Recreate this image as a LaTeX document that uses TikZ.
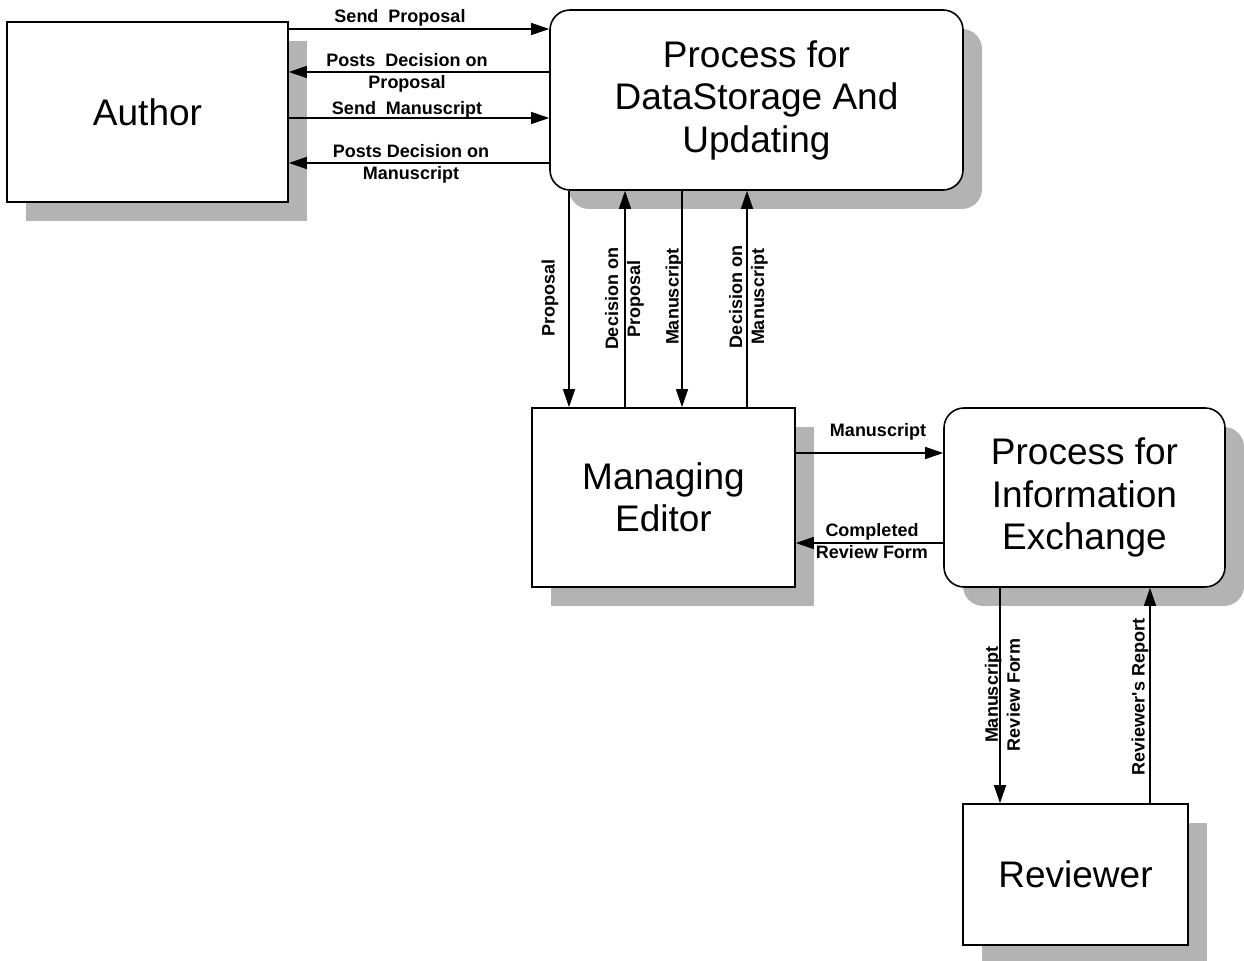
\documentclass[tikz,border=0pt]{standalone}
\usepackage{fontspec}
\setmainfont{Liberation Sans}
\usetikzlibrary{arrows.meta,shadows}
\definecolor{ink}{HTML}{000000}
\definecolor{shade}{HTML}{B3B3B3}

\begin{document}
\begin{tikzpicture}[
  x=0.5pt, y=-0.5pt,
  entity/.style  = {draw=ink, line width=0.8pt, fill=white, align=center,
                    font=\fontsize{18.5}{21.25}\selectfont,
                    drop shadow={shadow xshift=9.5pt, shadow yshift=-9.5pt,
                                 fill=shade, opacity=1}},
  process/.style = {entity, rounded corners=10pt},
  flow/.style    = {font=\fontsize{9}{11}\selectfont\bfseries, align=center,
                    inner sep=0pt, text=ink},
  arr/.style     = {-{Triangle[length=9pt,width=6pt]}, draw=ink, line width=0.6pt},
]
\useasboundingbox (0,0) rectangle (1244,961);

% entities and processes
\node[entity, minimum width=140.5pt, minimum height=90pt] (author) at (147.5,112) {Author};
\node[process, minimum width=206.5pt, minimum height=90pt] (store) at (756.5,100)
  {Process for\\DataStorage And\\Updating};
\node[entity, minimum width=131.5pt, minimum height=89.5pt] (editor) at (663.5,497.5)
  {Managing\\Editor};
\node[process, minimum width=140.5pt, minimum height=89.5pt] (exchange) at (1084.5,497.5)
  {Process for\\Information\\Exchange};
\node[entity, minimum width=112.5pt, minimum height=70.5pt] (reviewer) at (1075.5,874.5)
  {Reviewer};

% author <-> store
\draw[arr] (author.east |- 0,29) -- (store.west |- 0,29);
\draw[arr] (store.west |- 0,72) -- (author.east |- 0,72);
\draw[arr] (author.east |- 0,118) -- (store.west |- 0,118);
\draw[arr] (store.west |- 0,163) -- (author.east |- 0,163);

\node[flow] (sendprop) at (400,18) {Send\ \ Proposal};
\node[flow] (postsprop) at (407,73) {Posts\ \ Decision on\\Proposal};
\node[flow] (sendms) at (407,110) {Send\ \ Manuscript};
\node[flow] (postsms) at (411,164) {Posts Decision on\\Manuscript};

% store <-> editor
\draw[arr] (store.south -| 569,0) -- (editor.north -| 569,0);
\draw[arr] (editor.north -| 625,0) -- (store.south -| 625,0);
\draw[arr] (store.south -| 682,0) -- (editor.north -| 682,0);
\draw[arr] (editor.north -| 747,0) -- (store.south -| 747,0);

\node[flow, rotate=90] (prop) at (550,298) {Proposal};
\node[flow, rotate=90] (decprop) at (624.5,299) {Decision on\\Proposal};
\node[flow, rotate=90] (ms) at (674,297) {Manuscript};
\node[flow, rotate=90] (decms) at (748.5,297) {Decision on\\Manuscript};

% editor <-> exchange
\draw[arr] (editor.east |- 0,453) -- (exchange.west |- 0,453);
\draw[arr] (exchange.west |- 0,543) -- (editor.east |- 0,543);

\node[flow] (msout) at (878,432) {Manuscript};
\node[flow] (completed) at (872,541) {Completed\\Review Form};

% exchange <-> reviewer
\draw[arr] (exchange.south -| 1000,0) -- (reviewer.north -| 1000,0);
\draw[arr] (reviewer.north -| 1150,0) -- (exchange.south -| 1150,0);

\node[flow, rotate=90] (msform) at (1002.5,695) {Manuscript\\Review Form};
\node[flow, rotate=90] (report) at (1140,697) {Reviewer\textquotesingle s Report};

\end{tikzpicture}
\end{document}
